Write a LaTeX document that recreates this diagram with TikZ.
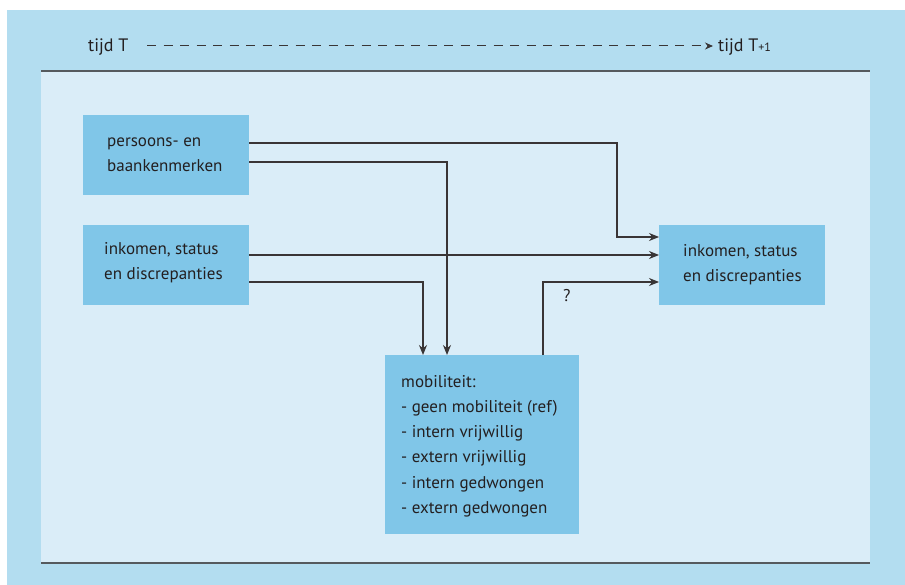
\documentclass[tikz,border=0pt]{standalone}
\usepackage{fontspec}
\setmainfont{PT Sans}
\usetikzlibrary{arrows.meta}
\definecolor{outerbg}{HTML}{B3DDF0}
\definecolor{panelbg}{HTML}{DAEDF8}
\definecolor{boxfill}{HTML}{80C6E8}
\definecolor{ink}{HTML}{231F20}
\definecolor{rule}{HTML}{555A5E}
\tikzset{
  box/.style={rectangle, fill=boxfill, draw=none, anchor=north west, inner sep=0pt},
  conn/.style={draw=ink!90, line width=1.3pt, -{Stealth[length=10pt,width=8pt]}},
  lbl/.style={text=ink, font=\fontsize{17}{20}\selectfont, inner sep=0pt, anchor=base west},
  axislbl/.style={lbl, font=\fontsize{18}{20}\selectfont}
}
\begin{document}
\begin{tikzpicture}[x=1pt,y=-1pt]
\useasboundingbox (0,0) rectangle (905,585);
\fill[white] (0,0) rectangle (905,585);
\fill[outerbg] (7,10) rectangle (905,585);
\fill[panelbg] (41,71) rectangle (870,563);
\draw[rule, line width=2pt] (41,71) -- (870,71);
\draw[rule, line width=2pt] (41,563) -- (870,563);
% time axis
\node[axislbl] (t0) at (88,52) {tijd T};
\node[axislbl] (t1) at (718,52) {tijd T{\fontsize{12}{12}\selectfont +1}};
\coordinate (t0s) at (147,46);
\coordinate (t1e) at (713,46);
\draw[draw=ink!90, line width=1pt, dash pattern=on 9pt off 7.5pt, -{Stealth[length=8pt,width=7pt]}] (t0s) -- (t1e);
% boxes
\node[box, minimum width=166pt, minimum height=80pt] (A) at (83,115) {};
\node[lbl] (A1) at (107,147) {persoons- en};
\node[lbl] (A2) at (107,172) {baankenmerken};
\node[box, minimum width=166pt, minimum height=80pt] (B) at (83,225) {};
\node[lbl] (B1) at (104,255) {inkomen, status};
\node[lbl] (B2) at (104,280) {en discrepanties};
\node[box, minimum width=166pt, minimum height=80pt] (C) at (659,225) {};
\node[lbl] (C1) at (683,257) {inkomen, status};
\node[lbl] (C2) at (683,282) {en discrepanties};
\node[box, minimum width=194pt, minimum height=179pt] (D) at (385,355) {};
\node[lbl] (D1) at (401,387) {mobiliteit:};
\node[lbl] (D2) at (401,412.3) {- geen mobiliteit (ref)};
\node[lbl] (D3) at (401,437.6) {- intern vrijwillig};
\node[lbl] (D4) at (401,462.9) {- extern vrijwillig};
\node[lbl] (D5) at (401,488.2) {- intern gedwongen};
\node[lbl] (D6) at (401,513.5) {- extern gedwongen};
% connectors
\coordinate (a1) at (249,143);
\coordinate (a2) at (249,162);
\coordinate (b1) at (249,255);
\coordinate (b2) at (249,282);
\draw[conn] (a1) -- (617,143) |- (C.west |- 0,237);
\draw[conn] (a2) -| (D.north -| 447,0);
\draw[conn] (b1) -- (C.west |- 0,255);
\draw[conn] (b2) -| (D.north -| 423,0);
\draw[conn] (D.north -| 543,0) |- (C.west |- 0,282);
\node[lbl] (q) at (563,302) {?};
\end{tikzpicture}
\end{document}
